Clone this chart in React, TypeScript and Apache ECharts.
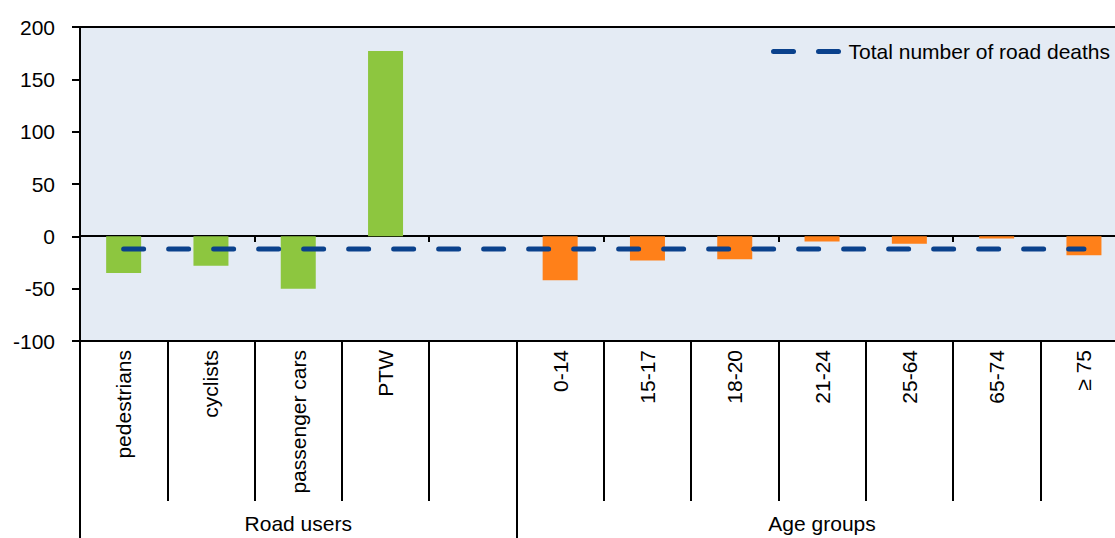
import React, { useEffect, useRef } from "react";
import * as echarts from "echarts";

// Change in road deaths by road user type and by age group
const categories = [
  "pedestrians",
  "cyclists",
  "passenger cars",
  "PTW",
  "",
  "0-14",
  "15-17",
  "18-20",
  "21-24",
  "25-64",
  "65-74",
  "≥ 75",
];
const roadUserValues = [-35, -28, -50, 177, null];
const ageGroupValues = [-42, -23, -22, -5, -7, -2, -18];
const totalRoadDeaths = [-12, -12, -12, -12, -12, -12, -12, -12, -12, -12, -12, -12];
const groupLabels = ["", "", "Road users", "", "", "", "", "", "Age groups", "", "", ""];
const groupStartIndices = [0, 5];
const yTicks = { min: -100, max: 200, interval: 50 };

const FONT = "'Liberation Sans', Arial, sans-serif";
const GREEN = "#8DC63F";
const ORANGE = "#FF8019";
const BLUE = "#0A418C";

export default function App() {
  const ref = useRef<HTMLDivElement>(null);

  useEffect(() => {
    document.body.style.margin = "0";
    const chart = echarts.init(ref.current!, null, { renderer: "svg" });

    const n = categories.length;
    const roadSeries = categories.map((_, i) => (i < roadUserValues.length ? roadUserValues[i] : null));
    const ageSeries = categories.map((_, i) =>
      i >= roadUserValues.length ? ageGroupValues[i - roadUserValues.length] : null
    );

    chart.setOption({
      animation: false,
      textStyle: { fontFamily: FONT },
      grid: {
        left: 80,
        top: 27,
        height: 314,
        width: 87.3 * n,
        outerBoundsMode: "none",
        containLabel: false,
        show: true,
        backgroundColor: "#E4EBF4",
        borderColor: "#000",
        borderWidth: 2,
      },
      legend: {
        data: ["Total number of road deaths"],
        right: 0,
        top: 36,
        itemWidth: 70,
        itemHeight: 14,
        itemGap: 5,
        lineStyle: { width: 5, cap: "round", type: [20, 25], color: BLUE },
        itemStyle: { color: "rgba(0,0,0,0)", borderWidth: 0 },
        textStyle: { fontSize: 21, color: "#000", fontFamily: FONT },
      },
      xAxis: [
        {
          type: "category",
          data: categories,
          position: "bottom",
          axisLine: { show: true, onZero: false, lineStyle: { color: "#000", width: 2 } },
          axisTick: { show: true, length: 160, lineStyle: { color: "#000", width: 2 } },
          axisLabel: {
            interval: 0,
            rotate: 90,
            margin: 9,
            fontSize: 21,
            color: "#000",
            fontFamily: FONT,
          },
          splitLine: { show: false },
        },
        {
          // zero line with its short ticks
          type: "category",
          data: categories,
          position: "bottom",
          offset: -105,
          axisLine: { show: true, onZero: false, lineStyle: { color: "#000", width: 2 } },
          axisTick: { show: true, length: 6, lineStyle: { color: "#000", width: 2 } },
          axisLabel: { show: false },
          splitLine: { show: false },
        },
        {
          // group level of the category axis
          type: "category",
          data: groupLabels,
          position: "bottom",
          offset: 160,
          axisLine: { show: false, onZero: false },
          axisTick: {
            show: true,
            length: 37,
            interval: (index: number) => groupStartIndices.includes(index),
            lineStyle: { color: "#000", width: 2 },
          },
          axisLabel: {
            interval: 0,
            margin: 12,
            fontSize: 21,
            color: "#000",
            fontFamily: FONT,
          },
          splitLine: { show: false },
        },
      ],
      yAxis: {
        type: "value",
        min: yTicks.min,
        max: yTicks.max,
        interval: yTicks.interval,
        axisLine: { show: true, lineStyle: { color: "#000", width: 2 } },
        axisTick: { show: true, length: 8, lineStyle: { color: "#000", width: 2 } },
        axisLabel: { margin: 25, fontSize: 21, color: "#000", fontFamily: FONT },
        splitLine: { show: false },
      },
      series: [
        {
          name: "Road users",
          type: "bar",
          stack: "change",
          xAxisIndex: 0,
          barWidth: 35,
          itemStyle: { color: GREEN },
          data: roadSeries,
        },
        {
          name: "Age groups",
          type: "bar",
          stack: "change",
          xAxisIndex: 0,
          barWidth: 35,
          itemStyle: { color: ORANGE },
          data: ageSeries,
        },
        {
          name: "Total number of road deaths",
          type: "line",
          xAxisIndex: 0,
          symbol: "none",
          z: 5,
          lineStyle: { color: BLUE, width: 5, type: [20, 25], cap: "round" },
          itemStyle: { color: BLUE },
          data: totalRoadDeaths,
        },
      ],
    });

    return () => chart.dispose();
  }, []);

  return (
    <div
      ref={ref}
      style={{ position: "absolute", left: 0, top: 0, width: 1115, height: 538 }}
    />
  );
}
